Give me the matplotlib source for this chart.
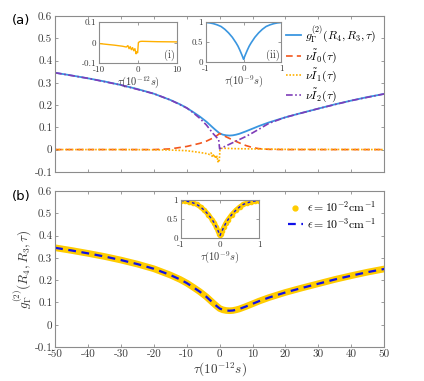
import matplotlib
matplotlib.use("Agg")
import matplotlib.pyplot as plt

plt.rcParams["font.family"] = "serif"
plt.rcParams["font.serif"] = ["cmr10"]
plt.rcParams["mathtext.fontset"] = "cm"
plt.rcParams["axes.unicode_minus"] = False
plt.rcParams["axes.formatter.use_mathtext"] = False

# g_Gamma^(2)(R4, R3, tau), tau in 1e-12 s
tau_g = [-50, -45, -40, -35, -30, -25, -20, -15, -12, -10, -8, -6, -4, -2, -1,
         0, 1, 2, 3, 4, 5, 6, 8, 10, 12, 15, 20, 25, 30, 35, 40, 45, 50]
g_val = [0.345, 0.333, 0.320, 0.306, 0.290, 0.272, 0.251, 0.223, 0.203, 0.187,
         0.168, 0.148, 0.125, 0.098, 0.085, 0.073, 0.067, 0.064, 0.063, 0.064,
         0.067, 0.071, 0.082, 0.094, 0.106, 0.122, 0.145, 0.165, 0.184, 0.203,
         0.220, 0.236, 0.250]

# nu*I0
tau_i0 = [-50, -20, -15, -10, -6, -4, -2, -1, 0, 1, 2, 4, 6, 8, 10, 12, 15, 20, 50]
i0_val = [0, 0, 0.003, 0.014, 0.028, 0.038, 0.052, 0.061, 0.072, 0.065, 0.057,
          0.043, 0.030, 0.018, 0.009, 0.004, 0.001, 0, 0]

# nu*I1
tau_i1 = [-50, -30, -20, -15, -10, -8, -6, -4, -3, -2.6, -2.3, -2.0, -1.7, -1.4,
          -1.1, -0.8, -0.5, -0.3, -0.1, 0.1, 0.5, 1, 3, 5, 10, 20, 50]
i1_val = [0, 0, -0.001, -0.002, -0.005, -0.009, -0.013, -0.018, -0.022, -0.015,
          -0.030, -0.020, -0.035, -0.025, -0.040, -0.030, -0.055, -0.045, -0.050,
          0.000, 0.005, 0.006, 0.005, 0.004, 0.003, 0.001, 0]

# nu*I2
tau_i2 = [-50, -40, -30, -20, -15, -10, -8, -6, -4, -2, -1, -0.3, 0, 2, 4, 6, 8,
          10, 12, 15, 20, 30, 40, 50]
i2_val = [0.345, 0.320, 0.290, 0.251, 0.223, 0.187, 0.165, 0.140, 0.110, 0.072,
          0.056, 0.046, 0.003, 0.017, 0.031, 0.045, 0.059, 0.075, 0.092, 0.118,
          0.145, 0.184, 0.220, 0.250]

# long time window, tau in 1e-9 s
tau_ns = [-1, -0.9, -0.8, -0.7, -0.6, -0.5, -0.4, -0.3, -0.2, -0.15, -0.1, -0.05,
          -0.02, 0, 0.02, 0.05, 0.1, 0.15, 0.2, 0.3, 0.4, 0.5, 0.6, 0.7, 0.8, 0.9, 1]
g_ns = [0.99, 0.98, 0.96, 0.93, 0.89, 0.82, 0.73, 0.62, 0.48, 0.40, 0.30, 0.19,
        0.12, 0.07, 0.12, 0.19, 0.30, 0.40, 0.48, 0.62, 0.73, 0.82, 0.89, 0.93,
        0.96, 0.98, 0.99]

blue = "#3a96e0"
red = "#f2561d"
yellow = "#ffb000"
purple = "#7e3cb8"
gold = "#ffcc00"
dblue = "#1010e8"
spine_c = "#8c8c8c"
text_c = "#3a3a3a"


def style(ax, size=8):
    for s in ax.spines.values():
        s.set_color(spine_c)
        s.set_linewidth(0.8)
    ax.tick_params(direction="in", top=True, right=True, length=2.5,
                   width=0.6, colors=spine_c, labelcolor=text_c,
                   labelsize=size, pad=2)


fig = plt.figure(figsize=(4.24, 3.81), dpi=100)
ax_a = fig.add_axes([0.130, 0.549, 0.776, 0.409])
ax_b = fig.add_axes([0.130, 0.089, 0.776, 0.410])

# panel (a)
ax_a.plot(tau_g, g_val, color=blue, lw=1.3, label=r"$g_{\Gamma}^{(2)}(R_4,R_3,\tau)$")
ax_a.plot(tau_i0, i0_val, color=red, lw=1.2, ls=(0, (4, 2.5)), label=r"$\nu\tilde{I}_0(\tau)$")
ax_a.plot(tau_i1, i1_val, color=yellow, lw=1.2, ls=(0, (1, 1)), label=r"$\nu\tilde{I}_1(\tau)$")
ax_a.plot(tau_i2, i2_val, color=purple, lw=1.2, ls=(0, (4, 1.5, 1, 1.5)), label=r"$\nu\tilde{I}_2(\tau)$")
ax_a.set_xlim(-50, 50)
ax_a.set_ylim(-0.1, 0.6)
ax_a.set_xticks(range(-50, 51, 10))
ax_a.set_xticklabels([])
ax_a.set_yticks([-0.1, 0, 0.1, 0.2, 0.3, 0.4, 0.5, 0.6])
ax_a.set_yticklabels(["-0.1", "0", "0.1", "0.2", "0.3", "0.4", "0.5", "0.6"])
style(ax_a)
ax_a.legend(loc="upper right", frameon=False, fontsize=8.5, handlelength=1.3,
            handletextpad=0.3, labelspacing=0.2, borderaxespad=0.3)

# inset (i)
ax_i = fig.add_axes([0.2335, 0.8346, 0.184, 0.1076])
ax_i.plot(tau_i1, i1_val, color=yellow, lw=1.0)
ax_i.set_xlim(-10, 10)
ax_i.set_ylim(-0.1, 0.1)
ax_i.set_xticks([-10, 0, 10])
ax_i.set_yticks([-0.1, 0, 0.1])
ax_i.set_yticklabels(["-0.1", "0", "0.1"])
style(ax_i, 6.5)
ax_i.set_xlabel(r"$\tau(10^{-12}s)$", fontsize=7.5, labelpad=0, color=text_c)
ax_i.text(0.97, 0.06, "(i)", transform=ax_i.transAxes, ha="right", va="bottom",
          fontsize=7.5, color=text_c)

# inset (ii)
ax_ii = fig.add_axes([0.486, 0.837, 0.177, 0.105])
ax_ii.plot(tau_ns, g_ns, color=blue, lw=1.2)
ax_ii.set_xlim(-1, 1)
ax_ii.set_ylim(0, 1)
ax_ii.set_xticks([-1, 0, 1])
ax_ii.set_yticks([0, 0.5, 1])
ax_ii.set_yticklabels(["0", "0.5", "1"])
style(ax_ii, 6.5)
ax_ii.set_xlabel(r"$\tau(10^{-9}s)$", fontsize=7.5, labelpad=0, color=text_c)
ax_ii.text(0.98, 0.04, "(ii)", transform=ax_ii.transAxes, ha="right", va="bottom",
           fontsize=7.5, color=text_c)

# panel (b)
ax_b.plot(tau_g, g_val, color=gold, lw=4.8, solid_capstyle="round")
ax_b.plot([], [], "o", color=gold, ms=3.5, label=r"$\epsilon=10^{-2}\mathrm{cm}^{-1}$")
ax_b.plot(tau_g, g_val, color=dblue, lw=1.6, ls=(0, (3.5, 2.5)),
          label=r"$\epsilon=10^{-3}\mathrm{cm}^{-1}$")
ax_b.set_xlim(-50, 50)
ax_b.set_ylim(-0.1, 0.6)
ax_b.set_xticks(range(-50, 51, 10))
ax_b.set_xticklabels([str(v) for v in range(-50, 51, 10)])
ax_b.set_yticks([-0.1, 0, 0.1, 0.2, 0.3, 0.4, 0.5, 0.6])
ax_b.set_yticklabels(["-0.1", "0", "0.1", "0.2", "0.3", "0.4", "0.5", "0.6"])
style(ax_b)
ax_b.set_xlabel(r"$\tau(10^{-12}s)$", fontsize=9.5, labelpad=1, color=text_c)
ax_b.set_ylabel(r"$g_{\Gamma}^{(2)}(R_4,R_3,\tau)$", fontsize=9.5, labelpad=1, color=text_c)
ax_b.legend(loc="upper right", frameon=False, fontsize=8.5, handlelength=1.3,
            handletextpad=0.3, labelspacing=0.15, borderaxespad=0.3)

# inset of (b)
ax_ib = fig.add_axes([0.427, 0.375, 0.184, 0.0997])
ax_ib.plot(tau_ns, g_ns, color=gold, lw=3.5, marker="o", ms=3)
ax_ib.plot(tau_ns, g_ns, color=dblue, lw=1.0, ls=(0, (2, 2)))
ax_ib.set_xlim(-1, 1)
ax_ib.set_ylim(0, 1)
ax_ib.set_xticks([-1, 0, 1])
ax_ib.set_yticks([0, 0.5, 1])
ax_ib.set_yticklabels(["0", "0.5", "1"])
style(ax_ib, 6.5)
ax_ib.set_xlabel(r"$\tau(10^{-9}s)$", fontsize=7.5, labelpad=0, color=text_c)

fig.text(0.028, 0.945, "(a)", fontsize=9.5, family="DejaVu Sans", va="center")
fig.text(0.028, 0.483, "(b)", fontsize=9.5, family="DejaVu Sans", va="center")

fig.savefig("out.png", dpi=100)
